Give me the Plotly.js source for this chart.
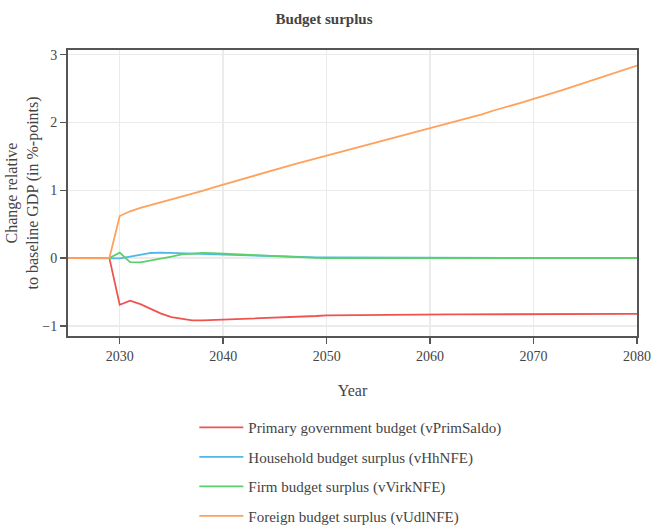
<!DOCTYPE html>
<html>
<head>
<meta charset="utf-8">
<script src="https://cdn.plot.ly/plotly-3.0.1.min.js"></script>
<style>
  html, body { margin: 0; padding: 0; background: #fff; }
  #chart { width: 668px; height: 527px; }
</style>
</head>
<body>
<div id="chart"></div>
<script>
// Years of the projection, 2025-2080
const years = [];
for (let y = 2025; y <= 2080; y++) years.push(y);

// Change relative to baseline GDP, %-points (one value per year)
const primSaldo = [0, 0, 0, 0, 0,
  -0.69, -0.63, -0.68, -0.75, -0.82, -0.87, -0.90, -0.92, -0.92, -0.915,
  -0.905, -0.90, -0.895, -0.89, -0.88, -0.875, -0.87, -0.865, -0.86, -0.855,
  -0.845, -0.843, -0.841, -0.84, -0.838, -0.837, -0.836, -0.835, -0.834, -0.833,
  -0.832, -0.832, -0.831, -0.831, -0.830, -0.830, -0.829, -0.829, -0.828, -0.828,
  -0.828, -0.827, -0.827, -0.827, -0.826, -0.826, -0.826, -0.825, -0.825, -0.825, -0.825];

const hhNFE = [0, 0, 0, 0, 0,
  -0.005, 0.02, 0.05, 0.075, 0.08, 0.075, 0.07, 0.065, 0.06, 0.058,
  0.055, 0.05, 0.045, 0.04, 0.035, 0.03, 0.02, 0.012, 0.01, 0.01,
  0.01, 0.009, 0.009, 0.008, 0.008, 0.007, 0.007, 0.006, 0.006, 0.005,
  0.005, 0.005, 0.004, 0.004, 0.004, 0.003, 0.003, 0.003, 0.002, 0.002,
  0.002, 0.002, 0.002, 0.001, 0.001, 0.001, 0.001, 0.001, 0.001, 0.001, 0.001];

const virkNFE = [0, 0, 0, 0, 0,
  0.08, -0.06, -0.065, -0.04, -0.01, 0.02, 0.055, 0.07, 0.075, 0.072,
  0.065, 0.058, 0.05, 0.04, 0.03, 0.022, 0.015, 0.01, 0.005, 0.002,
  0, 0, 0, 0, 0, 0, 0, 0, 0, 0,
  0, 0, 0, 0, 0, 0, 0, 0, 0, 0,
  0, 0, 0, 0, 0, 0, 0, 0, 0, 0, 0];

const udlNFE = [0, 0, 0, 0, 0,
  0.62, 0.69, 0.74, 0.78, 0.82, 0.86, 0.90, 0.94, 0.99, 1.04,
  1.085, 1.13, 1.17, 1.21, 1.26, 1.30, 1.35, 1.39, 1.43, 1.47,
  1.52, 1.56, 1.60, 1.64, 1.68, 1.72, 1.76, 1.80, 1.84, 1.87,
  1.91, 1.95, 1.99, 2.03, 2.08, 2.12, 2.17, 2.21, 2.26, 2.30,
  2.35, 2.39, 2.44, 2.49, 2.54, 2.59, 2.64, 2.69, 2.74, 2.79, 2.84];

const seriesNames = [
  'Primary government budget (vPrimSaldo)',
  'Household budget surplus (vHhNFE)',
  'Firm budget surplus (vVirkNFE)',
  'Foreign budget surplus (vUdlNFE)'
];
const seriesValues = [primSaldo, hhNFE, virkNFE, udlNFE];
const seriesColors = ['#EF5350', '#4FB8E6', '#5CD16B', '#FFA15A'];

const traces = seriesValues.map((vals, i) => ({
  type: 'scatter',
  mode: 'lines',
  x: years,
  y: vals,
  name: seriesNames[i],
  legendgroup: 'g' + i,
  line: { color: seriesColors[i], width: 1.8 }
}));

const FONT = 'Liberation Serif, Times New Roman, serif';
const TXT = '#444';

const axisCommon = {
  showline: true,
  linecolor: '#555',
  linewidth: 2,
  mirror: true,
  ticks: 'outside',
  ticklen: 6,
  tickwidth: 1.5,
  tickcolor: '#555',
  showgrid: true,
  gridcolor: '#ebebeb',
  gridwidth: 1.5,
  zeroline: false,
  tickfont: { family: FONT, size: 14, color: TXT }
};

const layout = {
  width: 668,
  height: 527,
  paper_bgcolor: '#fff',
  plot_bgcolor: '#fff',
  font: { family: FONT, color: TXT },
  margin: { l: 68, r: 31, t: 50, b: 191 },
  title: {
    text: '<b>Budget surplus</b>',
    font: { family: FONT, size: 15, color: TXT },
    x: 0.485, xref: 'container', xanchor: 'center',
    y: 0.974, yref: 'container'
  },
  xaxis: Object.assign({}, axisCommon, {
    range: [2025, 2080],
    tickvals: [2030, 2040, 2050, 2060, 2070, 2080],
    title: { text: 'Year', font: { family: FONT, size: 16, color: TXT }, standoff: 22 }
  }),
  yaxis: Object.assign({}, axisCommon, {
    range: [-1.15, 3.07],
    tickvals: [-1, 0, 1, 2, 3],
    title: { text: 'Change relative<br>to baseline GDP (in %-points)', font: { family: FONT, size: 16, color: TXT }, standoff: 0 }
  }),
  showlegend: true,
  legend: {
    orientation: 'v',
    x: 0.222, xanchor: 'left',
    y: 0.22, yref: 'container', yanchor: 'top',
    font: { family: FONT, size: 15, color: TXT },
    tracegroupgap: 7,
    itemwidth: 44
  }
};

Plotly.newPlot('chart', traces, layout, { displayModeBar: false, staticPlot: true });
</script>
</body>
</html>
